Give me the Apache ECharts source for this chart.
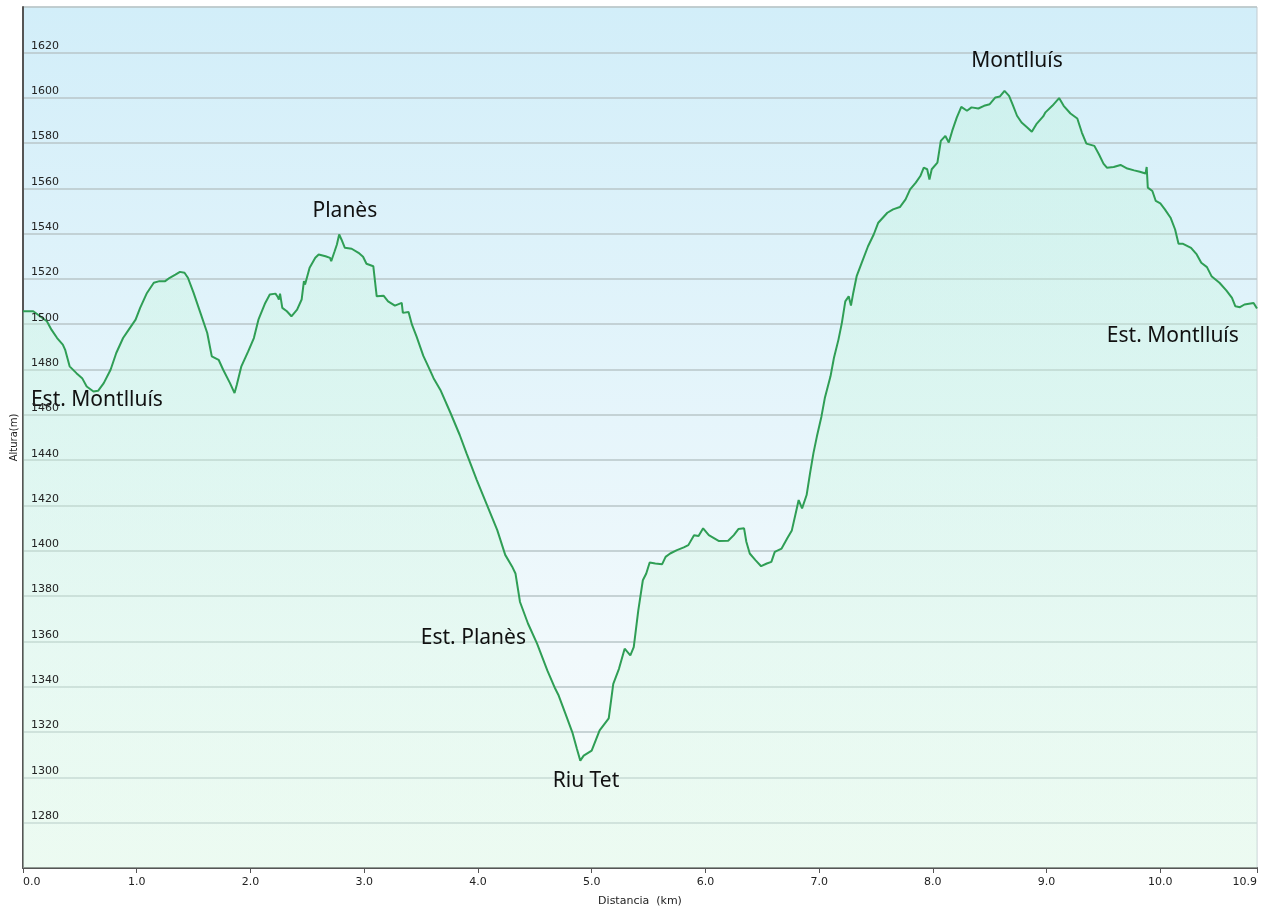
<!DOCTYPE html>
<html>
<head>
<meta charset="utf-8">
<title>Perfil</title>
<script src="https://cdn.jsdelivr.net/npm/echarts@6/dist/echarts.min.js"></script>
<style>
  html, body { margin: 0; padding: 0; background: #fff; }
  #chart { width: 1265px; height: 910px; }
</style>
</head>
<body>
<div id="chart"></div>
<script>
// distancia (km)
var distKm = [
  0.00, 0.09, 0.15, 0.21, 0.25, 0.30, 0.35, 0.37, 0.41, 0.47, 0.52, 0.56, 0.62, 0.66, 0.71, 0.77, 0.82, 0.88, 0.93, 0.99,
  1.03, 1.09, 1.15, 1.20, 1.25, 1.29, 1.34, 1.38, 1.42, 1.45, 1.50, 1.56, 1.62, 1.66, 1.72, 1.76, 1.82, 1.86, 1.88, 1.92,
  1.98, 2.03, 2.07, 2.13, 2.17, 2.22, 2.24, 2.25, 2.26, 2.28, 2.32, 2.36, 2.41, 2.45, 2.47, 2.48, 2.52, 2.57, 2.60, 2.66,
  2.70, 2.71, 2.74, 2.76, 2.78, 2.80, 2.83, 2.89, 2.95, 2.99, 3.02, 3.08, 3.11, 3.17, 3.21, 3.27, 3.33, 3.34, 3.39, 3.42,
  3.46, 3.52, 3.57, 3.61, 3.67, 3.76, 3.84, 3.90, 3.99, 4.08, 4.17, 4.24, 4.30, 4.33, 4.37, 4.44, 4.52, 4.61, 4.68, 4.71,
  4.77, 4.83, 4.87, 4.90, 4.93, 5.00, 5.07, 5.15, 5.19, 5.24, 5.29, 5.34, 5.37, 5.41, 5.45, 5.48, 5.51, 5.56, 5.62, 5.65,
  5.69, 5.75, 5.81, 5.85, 5.90, 5.94, 5.98, 6.03, 6.12, 6.20, 6.25, 6.29, 6.34, 6.36, 6.39, 6.44, 6.49, 6.54, 6.58, 6.61,
  6.67, 6.72, 6.76, 6.80, 6.82, 6.85, 6.89, 6.92, 6.95, 6.98, 7.02, 7.05, 7.10, 7.13, 7.17, 7.20, 7.23, 7.26, 7.28, 7.30,
  7.33, 7.38, 7.43, 7.48, 7.52, 7.60, 7.65, 7.71, 7.76, 7.80, 7.85, 7.89, 7.92, 7.95, 7.97, 7.99, 8.04, 8.07, 8.11, 8.14,
  8.17, 8.21, 8.25, 8.30, 8.34, 8.40, 8.45, 8.50, 8.55, 8.59, 8.63, 8.67, 8.70, 8.74, 8.78, 8.83, 8.87, 8.91, 8.97, 8.99,
  9.05, 9.11, 9.15, 9.21, 9.27, 9.31, 9.35, 9.42, 9.46, 9.50, 9.53, 9.59, 9.65, 9.71, 9.77, 9.82, 9.87, 9.88, 9.89, 9.93,
  9.96, 10.00, 10.04, 10.09, 10.13, 10.16, 10.20, 10.27, 10.32, 10.36, 10.41, 10.45, 10.52, 10.58, 10.63, 10.66, 10.70, 10.74, 10.82, 10.85
]

// altura (m)
var altitud = [
  1505.7, 1505.7, 1503.5, 1501.3, 1497.6, 1493.9, 1491.0, 1488.8, 1481.4, 1478.4, 1476.2, 1472.5, 1470.3, 1470.6, 1474.0, 1479.9, 1487.3, 1493.9, 1497.6, 1502.0,
  1507.2, 1513.8, 1518.3, 1519.0, 1519.0, 1520.5, 1521.9, 1523.1, 1522.7, 1520.5, 1513.8, 1505.0, 1496.1, 1485.8, 1484.3, 1479.9, 1474.0, 1469.6, 1473.3, 1481.4,
  1488.0, 1493.9, 1502.0, 1509.4, 1513.1, 1513.5, 1512.0, 1510.9, 1513.5, 1507.2, 1505.7, 1503.5, 1506.4, 1510.9, 1519.0, 1517.5, 1524.9, 1529.3, 1530.8, 1530.0,
  1529.3, 1527.8, 1532.2, 1535.2, 1539.6, 1537.4, 1533.7, 1533.3, 1531.5, 1529.8, 1526.7, 1525.6, 1512.3, 1512.6, 1510.1, 1508.2, 1509.4, 1505.0, 1505.4, 1499.8,
  1494.6, 1486.0, 1480.6, 1476.2, 1471.0, 1460.7, 1451.1, 1443.0, 1431.2, 1420.2, 1409.1, 1398.2, 1393.1, 1390.0, 1377.4, 1367.9, 1359.0, 1347.2, 1339.1, 1336.1,
  1328.0, 1319.9, 1312.6, 1307.4, 1309.6, 1311.8, 1320.7, 1326.0, 1341.3, 1347.9, 1356.8, 1353.8, 1357.5, 1373.7, 1387.0, 1390.0, 1394.8, 1394.4, 1394.1, 1397.3,
  1398.8, 1400.3, 1401.5, 1402.5, 1406.9, 1406.5, 1409.9, 1406.9, 1404.3, 1404.4, 1406.9, 1409.6, 1409.9, 1404.0, 1398.8, 1395.9, 1393.2, 1394.4, 1395.1, 1399.5,
  1401.0, 1405.5, 1409.0, 1417.9, 1422.4, 1418.7, 1424.6, 1434.2, 1443.1, 1450.4, 1459.2, 1467.4, 1477.0, 1485.1, 1493.2, 1500.6, 1510.1, 1512.3, 1508.2, 1513.8,
  1521.2, 1527.8, 1534.4, 1539.6, 1544.8, 1549.2, 1550.7, 1551.7, 1555.1, 1559.5, 1562.5, 1565.4, 1569.1, 1568.4, 1563.9, 1568.4, 1571.3, 1580.9, 1583.1, 1580.2,
  1585.3, 1591.2, 1595.9, 1594.2, 1595.7, 1595.2, 1596.4, 1597.1, 1600.1, 1600.5, 1603.0, 1600.8, 1597.1, 1592.0, 1589.0, 1586.8, 1584.9, 1588.3, 1591.7, 1593.5,
  1596.4, 1599.8, 1596.4, 1593.0, 1590.8, 1584.6, 1579.7, 1578.7, 1575.0, 1570.9, 1569.1, 1569.4, 1570.3, 1568.7, 1567.9, 1567.3, 1566.5, 1569.4, 1560.3, 1558.8,
  1554.4, 1553.3, 1550.7, 1547.0, 1541.8, 1535.5, 1535.5, 1533.7, 1530.8, 1527.1, 1525.2, 1521.2, 1518.3, 1514.9, 1511.6, 1507.9, 1507.5, 1508.7, 1509.4, 1506.9
]

// marcas del eje X
var xTicks = [0, 1, 2, 3, 4, 5, 6, 7, 8, 9, 10, 10.85]
var xTickLabels = ['0.0', '1.0', '2.0', '3.0', '4.0', '5.0', '6.0', '7.0', '8.0', '9.0', '10.0', '10.9']

// puntos de paso
var puntosNombre = ['Est. Montlluís', 'Planès', 'Est. Planès', 'Riu Tet', 'Montlluís', 'Est. Montlluís']
var puntosKm = [0.65, 2.83, 3.96, 4.95, 8.74, 10.11]
var puntosAlt = [1466.6, 1549.9, 1361.4, 1298.6, 1616.0, 1495.0]

var perfil = distKm.map(function (d, i) { return [d, altitud[i]] })
var marcas = puntosNombre.map(function (n, i) {
  return { name: n, coord: [puntosKm[i], puntosAlt[i]] }
})

var myChart = echarts.init(document.getElementById('chart'))
myChart.setOption({
  animation: false,
  backgroundColor: '#ffffff',
  grid: {
    left: 23,
    right: 8,
    top: 7,
    bottom: 42,
    outerBoundsMode: 'none',
    containLabel: false,
    show: true,
    borderColor: '#c2cbd0',
    borderWidth: 1,
    backgroundColor: {
      type: 'linear', x: 0, y: 0, x2: 0, y2: 1,
      colorStops: [
        { offset: 0, color: '#d2eef9' },
        { offset: 0.75, color: '#f1f9fc' },
        { offset: 1, color: '#f4fbf8' }
      ]
    }
  },
  xAxis: {
    type: 'value',
    min: 0,
    max: 10.85,
    name: 'Distancia  (km)',
    nameLocation: 'middle',
    nameGap: 28,
    nameTextStyle: { fontFamily: 'DejaVu Sans', fontSize: 11, color: '#222' },
    axisLine: { show: true, lineStyle: { color: '#555', width: 2 } },
    axisTick: { show: true, customValues: xTicks, length: 5, lineStyle: { color: '#555' } },
    axisLabel: {
      customValues: xTicks,
      formatter: function (v) {
        var i = xTicks.indexOf(v)
        return i >= 0 ? xTickLabels[i] : ''
      },
      alignMinLabel: 'left',
      alignMaxLabel: 'right',
      fontFamily: 'DejaVu Sans',
      fontSize: 11,
      color: '#222',
      margin: 9
    },
    splitLine: { show: false }
  },
  yAxis: [
    {
      // rejilla y eje
      type: 'value',
      min: 1260,
      max: 1640,
      interval: 20,
      name: 'Altura(m)',
      nameLocation: 'middle',
      nameGap: 9,
      nameMoveOverlap: false,
      nameRotate: 90,
      nameTextStyle: { fontFamily: 'DejaVu Sans', fontSize: 10, color: '#222', verticalAlign: 'middle' },
      axisLine: { show: true, lineStyle: { color: '#555', width: 2 } },
      axisTick: { show: false },
      axisLabel: { show: false },
      splitLine: { show: true, lineStyle: { color: '#b9c6c9', width: 1.5 } }
    },
    {
      // solo etiquetas, por encima del relleno
      type: 'value',
      position: 'left',
      min: 1260,
      max: 1640,
      interval: 20,
      z: 10,
      axisLine: { show: false },
      axisTick: { show: false },
      splitLine: { show: false },
      axisLabel: {
        inside: true,
        showMinLabel: false,
        showMaxLabel: false,
        formatter: function (v) { return String(v) },
        fontFamily: 'DejaVu Sans',
        fontSize: 11,
        color: '#222',
        margin: 8,
        verticalAlign: 'bottom',
        padding: [0, 0, 1, 0]
      }
    }
  ],
  series: [
    {
      type: 'line',
      data: perfil,
      symbol: 'none',
      smooth: false,
      z: 4,
      lineStyle: { color: '#2f9e55', width: 2 },
      areaStyle: {
        color: {
          type: 'linear', x: 0, y: 0, x2: 0, y2: 1,
          colorStops: [
            { offset: 0, color: 'rgba(190, 245, 215, 0.45)' },
            { offset: 1, color: 'rgba(225, 250, 232, 0.6)' }
          ]
        },
        origin: 'start'
      },
      markPoint: {
        symbol: 'circle',
        symbolSize: 0,
        label: {
          show: true,
          position: 'inside',
          formatter: '{b}',
          fontFamily: 'Noto Sans',
          fontSize: 21,
          color: '#111'
        },
        data: marcas
      }
    }
  ]
})
</script>
</body>
</html>
